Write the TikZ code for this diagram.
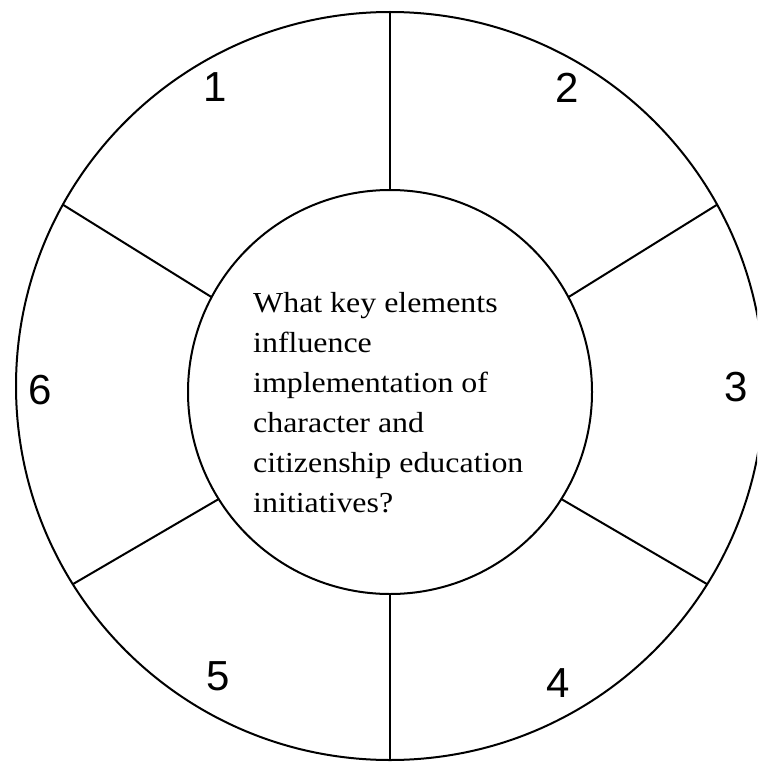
\documentclass[tikz,border=0pt]{standalone}
\usepackage{fontspec}
\setmainfont{Liberation Serif}[FakeStretch=1.1]
\newfontfamily\numfont{Liberation Sans}
\begin{document}
\begin{tikzpicture}[x=1pt,y=-1pt,
  ring/.style={circle,draw,line width=2pt,inner sep=0pt,outer sep=0pt},
  spoke/.style={line width=2pt},
  num/.style={inner sep=0pt,font=\numfont\fontsize{42}{42}\selectfont},
  question/.style={inner sep=0pt,anchor=north west,align=left,
    font=\fontsize{29}{40}\selectfont}]
\useasboundingbox (0,0) rectangle (757,762);
\clip (0,0) rectangle (757,762);
\node[ring,minimum size=748pt] (rim) at (390,386) {};
\node[ring,minimum size=404pt] (hub) at (390,392) {};
\draw[spoke] (hub.90) -- (rim.90);
\draw[spoke] (hub.270) -- (rim.270);
\draw[spoke] (hub.152) -- (rim.151);
\draw[spoke] (hub.212) -- (rim.212);
\draw[spoke] (hub.28) -- (rim.29);
\draw[spoke] (hub.328) -- (rim.328);
\node[question] (q) at (253,292) {What key elements\\influence\\implementation of\\character and\\citizenship education\\initiatives?};
\node[num] (n1) at (215,87) {1};
\node[num] (n2) at (567,88) {2};
\node[num] (n3) at (736,387) {3};
\node[num] (n4) at (558,683) {4};
\node[num] (n5) at (218,676) {5};
\node[num] (n6) at (40,390) {6};
\end{tikzpicture}
\end{document}
